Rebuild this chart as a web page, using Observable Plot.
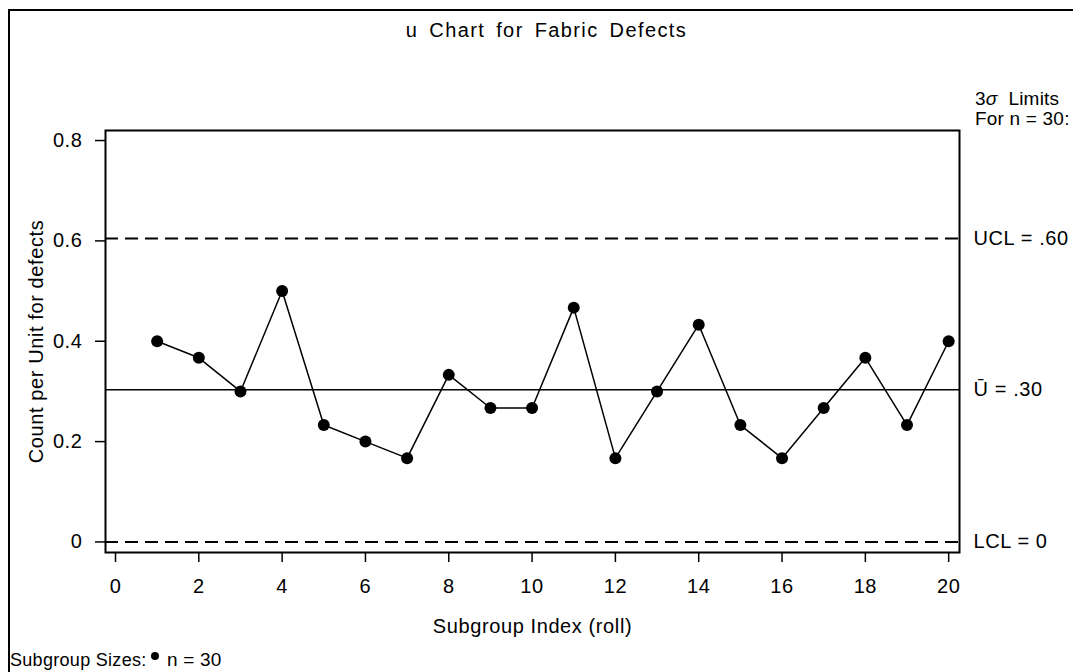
<!DOCTYPE html>
<html>
<head>
<meta charset="utf-8">
<script src="https://cdn.jsdelivr.net/npm/d3@7"></script>
<script src="https://cdn.jsdelivr.net/npm/@observablehq/plot@0.6"></script>
<style>
  html, body { margin: 0; padding: 0; background: #fff; }
  body { font-family: "Liberation Sans", Arial, sans-serif; color: #000; }
  #wrap { position: relative; width: 1073px; height: 672px; overflow: hidden; }
  #border { position: absolute; left: 8px; top: 9px; width: 1200px; height: 800px;
            border-left: 2px solid #000; border-top: 2px solid #000; }
  .lbl { position: absolute; font-size: 19px; white-space: pre; line-height: 1; letter-spacing: 0.2px; }
  #title { left: 10px; width: 1073px; top: 20px; text-align: center; font-size: 20px; letter-spacing: 1.4px; word-spacing: 4px; }
  #chart { position: absolute; left: 0; top: 0; }
</style>
</head>
<body>
<div id="wrap">
  <div id="border"></div>
  <div id="chart"></div>
  <div id="title" class="lbl">u Chart for Fabric Defects</div>
  <div class="lbl" style="left:975px; top:89px;">3<i>σ</i>  Limits</div>
  <div class="lbl" style="left:975px; top:109px;">For n = 30:</div>
  <div class="lbl" style="left:10px; top:651px; font-size:18px; letter-spacing:0.3px;">Subgroup Sizes:</div>
  <div style="position:absolute; left:151px; top:652px; width:8px; height:8px; border-radius:50%; background:#000;"></div>
  <div class="lbl" style="left:167px; top:650px;">n = 30</div>
</div>
<script>
// Data
const subgroup = [1,2,3,4,5,6,7,8,9,10,11,12,13,14,15,16,17,18,19,20];
const uValues = [0.400,0.367,0.300,0.500,0.233,0.200,0.167,0.333,0.267,0.267,
                 0.467,0.167,0.300,0.433,0.233,0.167,0.267,0.367,0.233,0.400];
const centerLine = 0.3033;
const ucl = 0.605;
const lcl = 0;
const limitLabels = ["UCL = .60", "Ū = .30", "LCL = 0"];
const limitValues = [ucl, centerLine, lcl];
const xTicks = [0,2,4,6,8,10,12,14,16,18,20];
const yTicks = [0,0.2,0.4,0.6,0.8];

const data = subgroup.map((s, i) => ({s, u: uValues[i]}));
const limits = limitLabels.map((label, i) => ({label, value: limitValues[i]}));

const chart = Plot.plot({
  width: 1073,
  height: 672,
  marginLeft: 105,
  marginRight: 114,
  marginTop: 130,
  marginBottom: 120,
  style: {fontFamily: '"Liberation Sans", Arial, sans-serif', fontSize: "20px", letterSpacing: "0.6px", color: "#000", background: "transparent", overflow: "visible"},
  x: {domain: [-0.24, 20.26]},
  y: {domain: [-0.021, 0.82]},
  marks: [
    Plot.ruleY([ucl, lcl], {stroke: "#000", strokeWidth: 2, strokeDasharray: "13,7"}),
    Plot.ruleY([centerLine], {stroke: "#000", strokeWidth: 1.5}),
    Plot.line(data, {x: "s", y: "u", stroke: "#000", strokeWidth: 1.5}),
    Plot.dot(data, {x: "s", y: "u", r: 6, fill: "#000", stroke: "none"}),
    Plot.frame({stroke: "#000", strokeWidth: 2}),
    Plot.text(limits, {y: "value", text: "label", frameAnchor: "right", dx: 14, textAnchor: "start", fontSize: 20, fill: "#000", style: "letter-spacing:0.2px"}),
    Plot.axisY({ticks: yTicks, tickSize: 10, tickPadding: 13, strokeWidth: 1.5,
      tickFormat: d => d === 0 ? "0" : d.toFixed(1),
      label: "Count per Unit for defects", labelAnchor: "center", labelArrow: "none", labelOffset: 77}),
    Plot.axisX({ticks: xTicks, tickSize: 10, tickPadding: 16, strokeWidth: 1.5,
      tickFormat: d => String(d),
      label: "Subgroup Index (roll)", labelAnchor: "center", labelArrow: "none", labelOffset: 80})
  ]
});
document.getElementById("chart").appendChild(chart);
</script>
</body>
</html>
